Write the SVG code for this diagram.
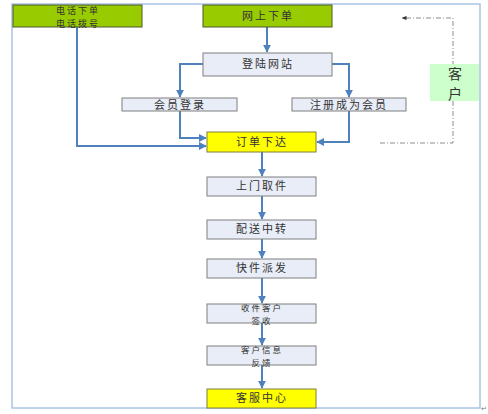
<svg xmlns="http://www.w3.org/2000/svg" width="488" height="414" viewBox="0 0 488 414">
<defs>
<style>
.t{font-family:"Noto Sans CJK SC","Noto Sans CJK JP",sans-serif;font-size:11px;fill:#333;text-anchor:middle;letter-spacing:2px}
.s{font-size:8.5px;letter-spacing:2px}
.p{font-size:9px}
.g{fill:#99cc00;stroke:#4a5a2a;stroke-width:1}
.b{fill:#e8edf7;stroke:#7f7f7f;stroke-width:1}
.y{fill:#ffff00;stroke:#7f7f3f;stroke-width:1}
.c{fill:none;stroke:#4f81bd;stroke-width:2}
.d{fill:none;stroke:#8c8c8c;stroke-width:1;stroke-dasharray:5 2 1 2}
</style>
<marker id="a" viewBox="0 0 10 10" refX="9" refY="5" markerWidth="4" markerHeight="4" orient="auto" markerUnits="strokeWidth">
<path d="M0,0 L10,5 L0,10 z" fill="#4f81bd"/>
</marker>
<marker id="ag" viewBox="0 0 10 10" refX="9" refY="5" markerWidth="5" markerHeight="5" orient="auto" markerUnits="strokeWidth">
<path d="M0,1 L10,5 L0,9 z" fill="#333"/>
</marker>
</defs>
<rect x="12" y="4" width="468" height="404" fill="none" stroke="#a9c4e4" stroke-width="1.5"/>
<g id="connectors">
<path class="c" d="M267,27 V52" marker-end="url(#a)"/>
<path class="c" d="M203,64 H180 V97" marker-end="url(#a)"/>
<path class="c" d="M332,64 H349 V97" marker-end="url(#a)"/>
<path class="c" d="M180,111 V138 H206" marker-end="url(#a)"/>
<path class="c" d="M77,27 V146 H206" marker-end="url(#a)"/>
<path class="c" d="M349,111 V142 H317" marker-end="url(#a)"/>
<path class="c" d="M262,152 V176" marker-end="url(#a)"/>
<path class="c" d="M262,196 V219" marker-end="url(#a)"/>
<path class="c" d="M262,239 V258" marker-end="url(#a)"/>
<path class="c" d="M262,278 V303" marker-end="url(#a)"/>
<path class="c" d="M262,323 V345" marker-end="url(#a)"/>
<path class="c" d="M262,365 V388" marker-end="url(#a)"/>
<path class="d" d="M380,143 H453 V18 H402" marker-end="url(#ag)"/>
</g>
<g id="n-phone"><rect class="g" x="13" y="5" width="129" height="22"/><text class="t p" x="78" y="14">电话下单</text><text class="t p" x="78" y="27.3">电话拨号</text></g>
<g id="n-web"><rect class="g" x="203" y="5" width="129" height="22"/><text class="t" x="268" y="20">网上下单</text></g>
<g id="n-login-site"><rect class="b" x="203" y="53" width="129" height="23"/><text class="t" x="268" y="68">登陆网站</text></g>
<g id="n-member"><rect class="b" x="122" y="98" width="115" height="13"/><text class="t" x="180" y="109">会员登录</text></g>
<g id="n-register"><rect class="b" x="292" y="98" width="114" height="13"/><text class="t" x="349" y="109">注册成为会员</text></g>
<g id="n-order"><rect class="y" x="207" y="132" width="109" height="20"/><text class="t" x="262" y="146">订单下达</text></g>
<g id="n-pickup"><rect class="b" x="207" y="177" width="109" height="19"/><text class="t" x="262" y="190">上门取件</text></g>
<g id="n-transfer"><rect class="b" x="207" y="220" width="109" height="19"/><text class="t" x="262" y="233">配送中转</text></g>
<g id="n-dispatch"><rect class="b" x="207" y="259" width="109" height="19"/><text class="t" x="262" y="272">快件派发</text></g>
<g id="n-sign"><rect class="b" x="207" y="304" width="109" height="19"/><text class="t s" x="262" y="311.3">收件客户</text><text class="t s" x="262" y="323.8">签收</text></g>
<g id="n-feedback"><rect class="b" x="207" y="346" width="109" height="19"/><text class="t s" x="262" y="353.3">客户信息</text><text class="t s" x="262" y="365.8">反馈</text></g>
<g id="n-service"><rect class="y" x="207" y="389" width="109" height="19"/><text class="t" x="262" y="402">客服中心</text></g>
<g id="n-customer"><rect x="430" y="64" width="49" height="37" fill="#ccffcc"/><text x="455" y="78.5" font-family="Noto Sans CJK SC,sans-serif" font-size="14" fill="#333" text-anchor="middle">客</text><text x="455" y="99" font-family="Noto Sans CJK SC,sans-serif" font-size="14" fill="#333" text-anchor="middle">户</text></g>
<text x="484" y="411" font-family="DejaVu Sans,sans-serif" font-size="7" fill="#777" text-anchor="middle">↵</text>
</svg>
